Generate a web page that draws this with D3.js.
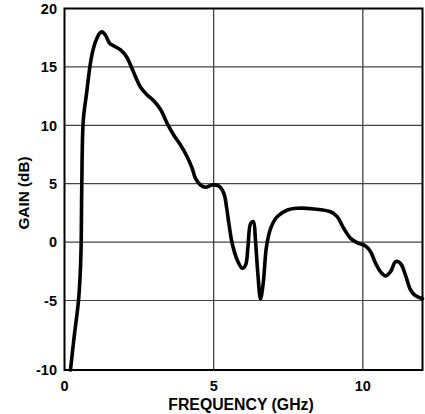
<!DOCTYPE html>
<html>
<head>
<meta charset="utf-8">
<script src="https://cdn.jsdelivr.net/npm/d3@7"></script>
<style>
  html, body { margin: 0; padding: 0; background: #fff; }
  svg { display: block; }
  text { font-family: "Liberation Sans", Arial, sans-serif; font-weight: bold; fill: #000; }
</style>
</head>
<body>
<svg id="chart" width="425" height="414"></svg>
<script>
// ---- data ----
const freq = [0.2, 0.33, 0.47, 0.53, 0.56, 0.58, 0.63, 0.74, 0.85, 0.93, 1.04, 1.18, 1.26, 1.37, 1.52, 1.65, 1.88, 2.08, 2.24, 2.38, 2.55, 2.77, 2.99, 3.22, 3.44, 3.66, 3.89, 4.11, 4.28, 4.39, 4.56, 4.73, 4.95, 5.17, 5.34, 5.43, 5.51, 5.62, 5.79, 5.96, 6.07, 6.15, 6.24, 6.33, 6.4, 6.48, 6.57, 6.66, 6.77, 6.91, 7.13, 7.47, 7.8, 8.36, 8.92, 9.14, 9.36, 9.59, 9.81, 10.09, 10.26, 10.43, 10.59, 10.76, 10.93, 11.1, 11.26, 11.43, 11.6, 11.77, 12.0];
const gain = [-10, -7.5, -5, -2.5, 0, 5, 10.45, 12.74, 15.0, 16.16, 17.16, 17.88, 18.0, 17.73, 17.0, 16.8, 16.45, 15.87, 15.0, 14.16, 13.25, 12.6, 12.1, 11.35, 10.17, 9.17, 8.31, 7.31, 6.32, 5.46, 4.89, 4.69, 4.89, 4.8, 4.18, 3.03, 1.6, -0.1, -1.53, -2.24, -1.96, -0.39, 1.6, 1.75, 0.18, -2.67, -4.85, -3.53, -0.39, 1.18, 2.18, 2.75, 2.9, 2.84, 2.6, 2.18, 1.18, 0.32, -0.05, -0.33, -0.82, -1.82, -2.53, -2.9, -2.53, -1.67, -1.82, -2.82, -4.1, -4.6, -4.85];
const xTicks = [0, 5, 10];
const yTicks = [-10, -5, 0, 5, 10, 15, 20];
const xGrid = [5, 10];
const yGrid = [-5, 0, 5, 10, 15];
const xTitle = "FREQUENCY (GHz)";
const yTitle = "GAIN (dB)";

// ---- scales ----
const x = d3.scaleLinear().domain([0, 12]).range([64.5, 422.5]);
const y = d3.scaleLinear().domain([-10, -5, 20]).range([370, 300.5, 8.5]);

const svg = d3.select("#chart");

// grid
svg.append("g").selectAll("line").data(xGrid).join("line")
  .attr("x1", d => x(d)).attr("x2", d => x(d))
  .attr("y1", y(-10)).attr("y2", y(20))
  .attr("stroke", "#333").attr("stroke-width", 1.2);
svg.append("g").selectAll("line").data(yGrid).join("line")
  .attr("x1", x(0)).attr("x2", x(12))
  .attr("y1", d => y(d)).attr("y2", d => y(d))
  .attr("stroke", "#444").attr("stroke-width", 1.2);

// frame
svg.append("rect")
  .attr("x", x(0)).attr("y", y(20))
  .attr("width", x(12) - x(0)).attr("height", y(-10) - y(20))
  .attr("fill", "none").attr("stroke", "#000").attr("stroke-width", 2);

// curve
const pts = freq.map((f, i) => [f, gain[i]]);
const line = d3.line().x(d => x(d[0])).y(d => y(d[1])).curve(d3.curveCatmullRom.alpha(0.5));
svg.append("path").datum(pts)
  .attr("d", line)
  .attr("fill", "none").attr("stroke", "#000")
  .attr("stroke-width", 3.6).attr("stroke-linejoin", "round").attr("stroke-linecap", "round");

// tick labels
svg.append("g").selectAll("text").data(yTicks).join("text")
  .attr("x", 57).attr("y", d => y(d)).attr("dy", "0.36em")
  .attr("text-anchor", "end").attr("font-size", 14.5)
  .text(d => d);
svg.append("g").selectAll("text").data(xTicks).join("text")
  .attr("x", d => x(d)).attr("y", 386).attr("dy", "0.36em")
  .attr("text-anchor", "middle").attr("font-size", 14.5)
  .text(d => d);

// titles
svg.append("text")
  .attr("x", 241).attr("y", 404).attr("dy", "0.36em")
  .attr("text-anchor", "middle").attr("font-size", 15.8)
  .text(xTitle);
svg.append("text")
  .attr("transform", "translate(23,193) rotate(-90)")
  .attr("dy", "0.36em")
  .attr("text-anchor", "middle").attr("font-size", 15.3)
  .text(yTitle);
</script>
</body>
</html>
